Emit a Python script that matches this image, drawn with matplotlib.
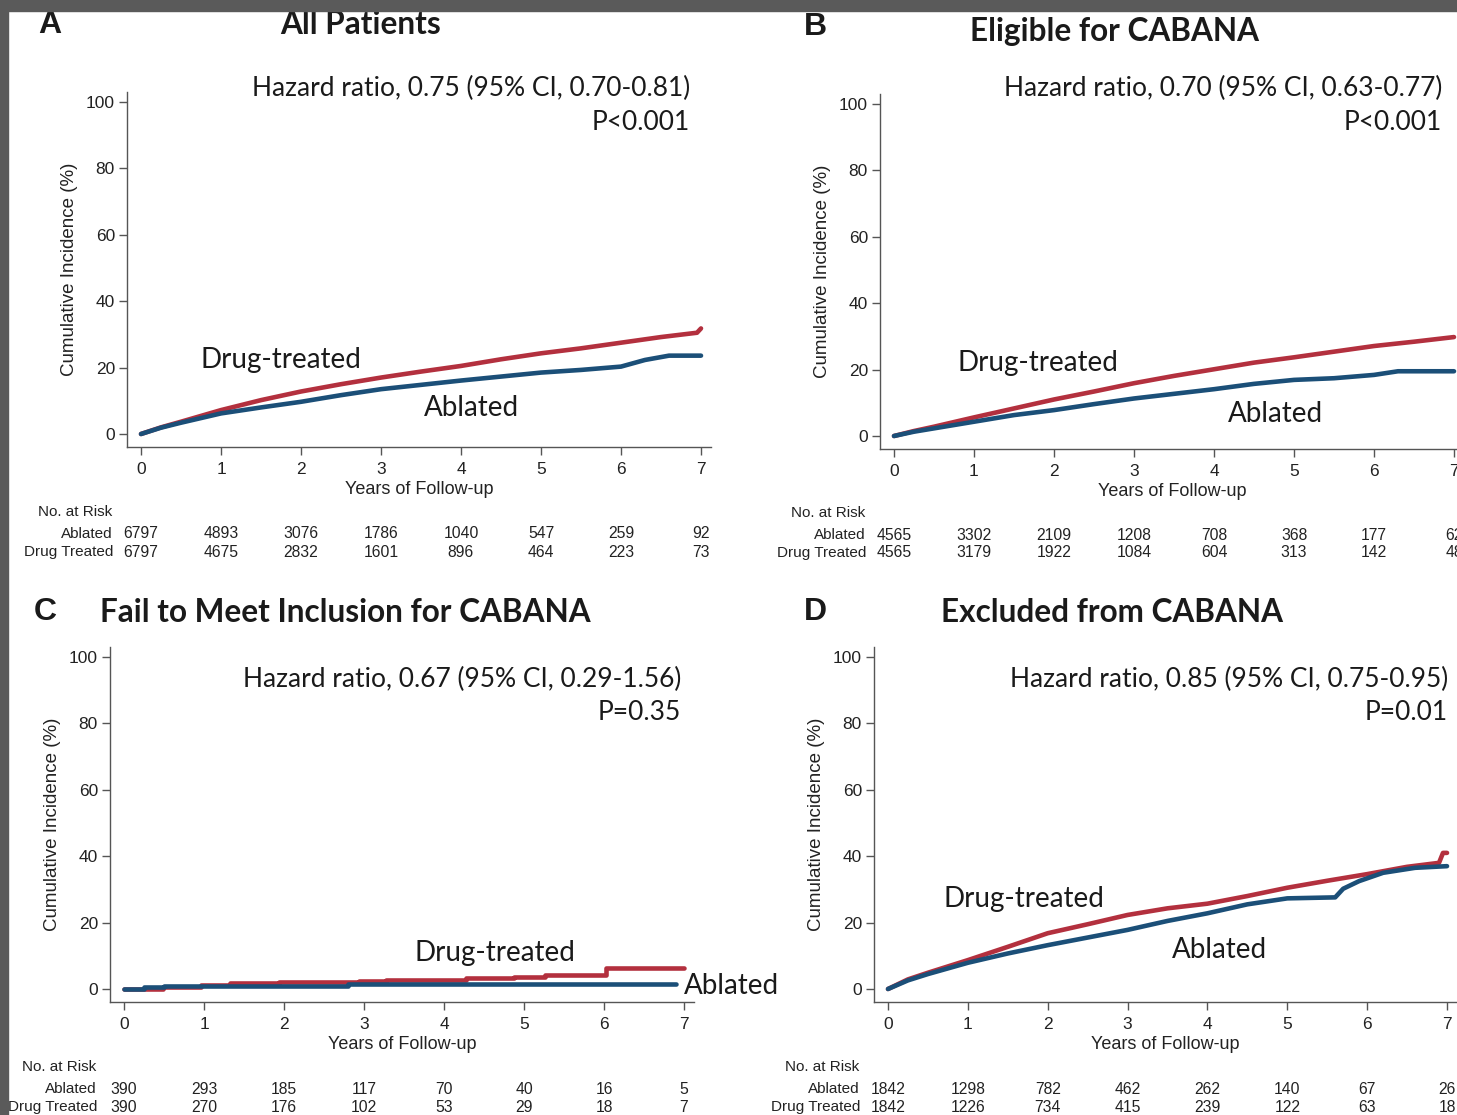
import matplotlib
matplotlib.use('Agg')
import matplotlib.pyplot as plt
from matplotlib.patches import Rectangle
from matplotlib.transforms import blended_transform_factory

W, H = 1457, 1115

# values
year_ticks = [0, 1, 2, 3, 4, 5, 6, 7]
pct_ticks = [0, 20, 40, 60, 80, 100]

# A - All Patients
a_drug_t = [0, 0.25, 0.5, 1, 1.5, 2, 2.5, 3, 3.5, 4, 4.5, 5, 5.5, 6, 6.5, 6.95, 7.0]
a_drug_y = [0, 2.0, 3.7, 7.2, 10.2, 12.8, 15.0, 17.0, 18.8, 20.5, 22.5, 24.3, 25.8, 27.5, 29.2, 30.5, 31.8]
a_abl_t = [0, 0.25, 0.5, 1, 1.5, 2, 2.5, 3, 3.5, 4, 4.5, 5, 5.5, 6, 6.3, 6.6, 7.0]
a_abl_y = [0, 1.9, 3.4, 6.2, 8.0, 9.7, 11.7, 13.5, 14.8, 16.1, 17.3, 18.5, 19.3, 20.3, 22.3, 23.6, 23.6]
a_risk_abl = [6797, 4893, 3076, 1786, 1040, 547, 259, 92]
a_risk_drug = [6797, 4675, 2832, 1601, 896, 464, 223, 73]

# B - Eligible for CABANA
b_drug_t = [0, 0.25, 0.5, 1, 1.5, 2, 2.5, 3, 3.5, 4, 4.5, 5, 5.5, 6, 6.5, 7.0]
b_drug_y = [0, 1.5, 2.8, 5.6, 8.3, 11.0, 13.4, 15.9, 18.1, 20.1, 22.1, 23.7, 25.4, 27.1, 28.4, 29.8]
b_abl_t = [0, 0.25, 0.5, 1, 1.5, 2, 2.5, 3, 3.5, 4, 4.5, 5, 5.5, 6, 6.3, 7.0]
b_abl_y = [0, 1.3, 2.3, 4.3, 6.3, 7.8, 9.6, 11.3, 12.7, 14.1, 15.7, 16.9, 17.4, 18.4, 19.5, 19.5]
b_risk_abl = [4565, 3302, 2109, 1208, 708, 368, 177, 62]
b_risk_drug = [4565, 3179, 1922, 1084, 604, 313, 142, 48]

# C - Fail to Meet Inclusion for CABANA (step curves)
c_drug_t = [0, 0.49, 0.96, 1.32, 1.94, 2.94, 3.28, 4.28, 4.87, 5.26, 6.02, 7.0]
c_drug_y = [0, 0.7, 1.1, 1.7, 2.0, 2.4, 2.8, 3.2, 3.7, 4.3, 6.3, 6.3]
c_abl_t = [0, 0.25, 0.5, 1.3, 2.8, 6.9]
c_abl_y = [0, 0.5, 0.8, 1.0, 1.6, 1.6]
c_risk_abl = [390, 293, 185, 117, 70, 40, 16, 5]
c_risk_drug = [390, 270, 176, 102, 53, 29, 18, 7]

# D - Excluded from CABANA
d_drug_t = [0, 0.25, 0.5, 1, 1.5, 2, 2.5, 3, 3.5, 4, 4.5, 5, 5.5, 6, 6.5, 6.9, 6.95, 7.0]
d_drug_y = [0, 2.9, 4.9, 8.7, 12.7, 16.8, 19.5, 22.3, 24.3, 25.7, 28.0, 30.5, 32.6, 34.6, 36.8, 38.0, 41.0, 41.0]
d_abl_t = [0, 0.25, 0.5, 1, 1.5, 2, 2.5, 3, 3.5, 4, 4.5, 5, 5.6, 5.7, 5.9, 6.2, 6.6, 7.0]
d_abl_y = [0, 2.6, 4.5, 7.9, 10.7, 13.2, 15.5, 17.8, 20.5, 22.8, 25.5, 27.3, 27.6, 30.2, 32.5, 35.0, 36.5, 37.0]
d_risk_abl = [1842, 1298, 782, 462, 262, 140, 67, 26]
d_risk_drug = [1842, 1226, 734, 415, 239, 122, 63, 18]

RED = '#B3303E'
BLUE = '#1B4F78'
TXT = '#1a1a1a'
SANS = 'Liberation Sans'
CAL = 'Lato'

fig = plt.figure(figsize=(W / 100, H / 100), dpi=100)
fig.patch.set_facecolor('white')


def fx(x):
    return x / W


def fy(y):
    return 1 - y / H


def ftext(x, y, s, **kw):
    fig.text(fx(x), fy(y), s, **kw)


XMIN, XMAX = -0.17, 7.125
YMIN, YMAX = -3.9, 103.0


def panel(lay, letter, title, hr, pval, drug, abl, risk_abl, risk_drug, steps=False):
    x0, x7, y0, y100 = lay['x0'], lay['x7'], lay['y0'], lay['y100']
    ppx = (x7 - x0) / 7.0
    ppy = (y0 - y100) / 100.0
    left = x0 + XMIN * ppx
    right = x0 + XMAX * ppx
    top = y0 - YMAX * ppy
    bottom = y0 - YMIN * ppy
    ax = fig.add_axes([fx(left), fy(bottom), (right - left) / W, (bottom - top) / H])
    ax.set_xlim(XMIN, XMAX)
    ax.set_ylim(YMIN, YMAX)
    ax.patch.set_alpha(0)
    for s in ['top', 'right']:
        ax.spines[s].set_visible(False)
    for s in ['left', 'bottom']:
        ax.spines[s].set_color('#555555')
        ax.spines[s].set_linewidth(1.0)
    ax.set_xticks(year_ticks)
    ax.set_yticks(pct_ticks)
    ax.tick_params(axis='both', direction='out', length=6, width=1, color='#555555',
                   labelsize=12.5, labelcolor='#222222', pad=3)
    ax.tick_params(axis='x', pad=5)
    for lab in ax.get_xticklabels() + ax.get_yticklabels():
        lab.set_fontfamily(SANS)
    ax.set_xlabel('Years of Follow-up', fontsize=13, family=SANS, color='#222222', labelpad=2.5)
    ax.set_ylabel('Cumulative Incidence (%)', fontsize=13.5, family=SANS, color='#222222', labelpad=6)

    ds = 'steps-post' if steps else 'default'
    ax.plot(drug[0], drug[1], color=RED, lw=3.3, drawstyle=ds, solid_capstyle='round', clip_on=False)
    ax.plot(abl[0], abl[1], color=BLUE, lw=3.3, drawstyle=ds, solid_capstyle='round', clip_on=False)

    ftext(lay['letter'][0], lay['letter'][1], letter, fontsize=23, fontweight='bold',
          family=SANS, color=TXT, va='center', ha='center')
    ftext(lay['title'][0], lay['title'][1], title, fontsize=22.7, fontweight='bold',
          family=CAL, color=TXT, va='center', ha=lay.get('title_ha', 'center'))
    ftext(lay['hr'][0], lay['hr'][1], hr, fontsize=19, family=CAL, color=TXT,
          va='center', ha='right')
    ftext(lay['hr'][0], lay['hr'][1] + 34, pval, fontsize=19, family=CAL, color=TXT,
          va='center', ha='right')

    ax.text(lay['drug_lab'][0], lay['drug_lab'][1], 'Drug-treated', fontsize=20, family=CAL,
            color=TXT, va='center', ha='left', clip_on=False)
    ax.text(lay['abl_lab'][0], lay['abl_lab'][1], 'Ablated', fontsize=20, family=CAL,
            color=TXT, va='center', ha='left', clip_on=False)

    # risk table
    rx, ry = lay['risk']
    ftext(rx, ry, 'No. at Risk', fontsize=11, family=SANS, color='#222222', va='center', ha='left')
    lab_r = rx + 75
    ftext(lab_r, ry + 22, 'Ablated', fontsize=11, family=SANS, color='#222222', va='center', ha='right')
    ftext(lab_r, ry + 40, 'Drug Treated', fontsize=11, family=SANS, color='#222222', va='center', ha='right')
    tr = blended_transform_factory(ax.transData, fig.transFigure)
    for t, na, nd in zip(year_ticks, risk_abl, risk_drug):
        ax.text(t, fy(ry + 22), str(na), transform=tr, fontsize=11.3, family=SANS,
                color='#222222', va='center', ha='center', clip_on=False)
        ax.text(t, fy(ry + 40), str(nd), transform=tr, fontsize=11.3, family=SANS,
                color='#222222', va='center', ha='center', clip_on=False)
    return ax


lay_a = dict(x0=141, x7=701, y0=434, y100=102, letter=(50, 25), title=(361, 25),
             hr=(690, 88), drug_lab=(0.74, 22.3), abl_lab=(3.54, 7.8), risk=(38, 512))
lay_b = dict(x0=894, x7=1454, y0=436, y100=104, letter=(815, 27), title=(1115, 32),
             hr=(1442, 88), drug_lab=(0.79, 22.0), abl_lab=(4.18, 6.6), risk=(791, 513))
lay_c = dict(x0=124, x7=684, y0=989, y100=657, letter=(45, 612), title=(100, 612), title_ha='left',
             hr=(681, 679), drug_lab=(3.63, 10.8), abl_lab=(7.0, 0.9), risk=(22, 1067))
lay_d = dict(x0=888, x7=1447, y0=989, y100=657, letter=(815, 612), title=(1112, 612),
             hr=(1448, 679), drug_lab=(0.70, 27.1), abl_lab=(3.55, 11.7), risk=(785, 1067))

panel(lay_a, 'A', 'All Patients', 'Hazard ratio, 0.75 (95% CI, 0.70-0.81)', 'P<0.001',
      (a_drug_t, a_drug_y), (a_abl_t, a_abl_y), a_risk_abl, a_risk_drug)
panel(lay_b, 'B', 'Eligible for CABANA', 'Hazard ratio, 0.70 (95% CI, 0.63-0.77)', 'P<0.001',
      (b_drug_t, b_drug_y), (b_abl_t, b_abl_y), b_risk_abl, b_risk_drug)
panel(lay_c, 'C', 'Fail to Meet Inclusion for CABANA', 'Hazard ratio, 0.67 (95% CI, 0.29-1.56)', 'P=0.35',
      (c_drug_t, c_drug_y), (c_abl_t, c_abl_y), c_risk_abl, c_risk_drug, steps=True)
panel(lay_d, 'D', 'Excluded from CABANA', 'Hazard ratio, 0.85 (95% CI, 0.75-0.95)', 'P=0.01',
      (d_drug_t, d_drug_y), (d_abl_t, d_abl_y), d_risk_abl, d_risk_drug)

# dark frame along the top and left edge of the screenshot
fig.patches.append(Rectangle((0, fy(11)), 1, 11 / H, transform=fig.transFigure,
                             color='#5a5a5a', zorder=10))
fig.patches.append(Rectangle((0, 0), 8 / W, 1, transform=fig.transFigure,
                             color='#5a5a5a', zorder=10))

fig.savefig('out.png', dpi=100)
